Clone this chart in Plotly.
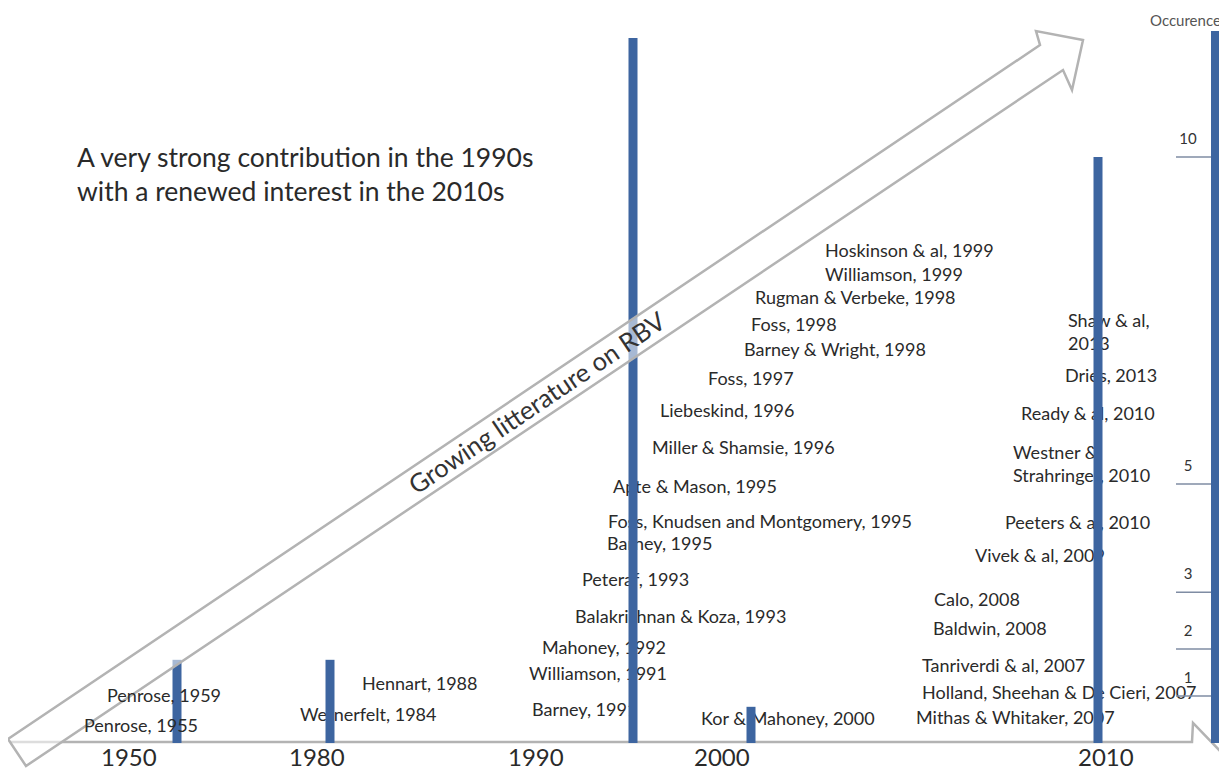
import plotly.graph_objects as go

# ---------------- data ----------------
decades = ["1950", "1980", "1990", "2000", "2010"]
occurrences = [1.77, 1.77, 15.0, 0.77, 12.47]
scale_bar_value = 15.15
scale_tick_values = [1.0, 2.0, 3.21, 5.51, 12.47]
scale_tick_text = ["1", "2", "3", "5", "10"]

refs_1950 = ["Penrose, 1959", "Penrose, 1955"]
refs_1980 = ["Hennart, 1988", "Wernerfelt, 1984"]
refs_1990 = ["Hoskinson & al, 1999", "Williamson, 1999", "Rugman & Verbeke, 1998",
             "Foss, 1998", "Barney & Wright, 1998", "Foss, 1997", "Liebeskind, 1996",
             "Miller & Shamsie, 1996", "Apte & Mason, 1995",
             "Foss, Knudsen and Montgomery, 1995", "Barney, 1995", "Peteraf, 1993",
             "Balakrishnan & Koza, 1993", "Mahoney, 1992", "Williamson, 1991",
             "Barney, 1991"]
refs_2000 = ["Kor & Mahoney, 2000"]
refs_2010 = ["Shaw & al,<br>2013", "Dries, 2013", "Ready & al, 2010",
             "Westner &<br>Strahringer, 2010", "Peeters & al, 2010", "Vivek & al, 2009",
             "Calo, 2008", "Baldwin, 2008", "Tanriverdi & al, 2007",
             "Holland, Sheehan & De Cieri, 2007", "Mithas & Whitaker, 2007"]

headline = "A very strong contribution in the 1990s<br>with a renewed interest in the 2010s"
arrow_text = "Growing litterature on RBV"
scale_title = "Occurences"

# ---------------- layout geometry (screen pixels) ----------------
OFF = 8                            # page body margin
W, H = 1227 - OFF, 778 - 2 * OFF   # figure size so the page never scrolls
BASE = 743.0                       # baseline pixel row (screen)
PX = 47.0                          # pixels per occurrence unit

bar_x = [177, 330, 633, 751, 1098]
scale_bar_x = 1215
decade_label_x = [129, 317, 536, 722, 1106]

pos_1950 = [(105, 695), (82, 725)]
pos_1980 = [(362, 685), (300, 716)]
pos_1990 = [(825, 252), (825, 276), (755, 299), (751, 326), (744, 351), (708, 380),
            (660, 412), (652, 449), (613, 488), (608, 523), (607, 545), (582, 581),
            (575, 618), (542, 649), (529, 675), (532, 711)]
pos_2000 = [(701, 720)]
pos_2010 = [(1068, 334), (1065, 377), (1021, 415), (1013, 466), (1005, 524),
            (975, 557), (934, 601), (933, 630), (922, 667), (922, 694), (916, 719)]


def vy(py):
    return (BASE - py) / PX


def pyp(py):
    return 1 - (py - OFF) / H


FONT = "Lato"
TXT = "#2a2a2a"
BLUE = "#3D65A0"
GRAY = "#b3b3b3"
LAB = 18

fig = go.Figure()

# label text (under the bars)
for refs, pos in [(refs_1980, pos_1980), (refs_1990, pos_1990),
                  (refs_2000, pos_2000), (refs_2010, pos_2010)]:
    fig.add_trace(go.Scatter(
        x=[p[0] for p in pos], y=[vy(p[1]) for p in pos], text=refs,
        mode="text", textposition="middle right",
        textfont=dict(family=FONT, size=LAB, color=TXT),
        hoverinfo="skip", showlegend=False))

# scale ticks
for v in scale_tick_values:
    fig.add_trace(go.Scatter(x=[1176, 1211], y=[v, v], mode="lines",
                             line=dict(color="#7f8ca3", width=1.5),
                             hoverinfo="skip", showlegend=False))
fig.add_trace(go.Scatter(
    x=[1188] * len(scale_tick_values), y=[v + 17 / PX for v in scale_tick_values],
    text=scale_tick_text, mode="text", textposition="middle center",
    textfont=dict(family=FONT, size=15, color="#333333"),
    hoverinfo="skip", showlegend=False))

# bars on an overlaid subplot so they sit above the text
fig.add_trace(go.Bar(x=bar_x, y=occurrences, width=9, marker_color=BLUE,
                     marker_line_width=0, xaxis="x2", yaxis="y2",
                     hoverinfo="skip", showlegend=False))
fig.add_trace(go.Bar(x=[scale_bar_x], y=[scale_bar_value], width=8, marker_color=BLUE,
                     marker_line_width=0, xaxis="x2", yaxis="y2",
                     hoverinfo="skip", showlegend=False))

yr = [vy(OFF + H), vy(OFF)]
xr = [OFF, OFF + W]
fig.update_layout(
    width=W, height=H, margin=dict(l=0, r=0, t=0, b=0),
    paper_bgcolor="white", plot_bgcolor="rgba(0,0,0,0)",
    xaxis=dict(range=xr, visible=False, fixedrange=True),
    yaxis=dict(range=yr, visible=False, fixedrange=True),
    xaxis2=dict(range=xr, visible=False, overlaying="x", fixedrange=True),
    yaxis2=dict(range=yr, visible=False, overlaying="y", fixedrange=True),
    barmode="overlay",
)

# horizontal timeline arrow (below bars)
hpath = (f"M 10,{pyp(742)} L 1192,{pyp(742)} L 1193,{pyp(723)} L 1250,{pyp(782)}")
fig.add_shape(type="path", path=hpath, xref="x", yref="paper", layer="below",
              line=dict(color=GRAY, width=2.5))

# big diagonal arrow with translucent white fill (above bars)
pts = [(8, 739), (1040, 45), (1036, 31), (1083, 40), (1072, 90), (1063, 70), (26, 766)]
dpath = "M " + " L ".join(f"{x},{pyp(y)}" for x, y in pts) + " Z"
fig.add_shape(type="path", path=dpath, xref="x", yref="paper", layer="above",
              fillcolor="rgba(255,255,255,0.55)", line=dict(color=GRAY, width=2.5))

ann = []
ann.append(dict(x=537, y=pyp(402), xref="x", yref="paper", text=arrow_text,
                textangle=-34, showarrow=False, xanchor="center", yanchor="middle",
                font=dict(family=FONT, size=25.5, color="#333333")))
ann.append(dict(x=75, y=pyp(174), xref="x", yref="paper", text=headline,
                xanchor="left", yanchor="middle", align="left", showarrow=False,
                font=dict(family=FONT, size=26.5, color=TXT)))
for lab, x in zip(decades, decade_label_x):
    ann.append(dict(x=x, y=pyp(756), xref="x", yref="paper", text=lab,
                    xanchor="center", yanchor="middle",
                    showarrow=False, font=dict(family=FONT, size=24, color=TXT)))
for lab, (x, y) in zip(refs_1950, pos_1950):
    ann.append(dict(x=x, y=pyp(y), xref="x", yref="paper", text=lab,
                    xanchor="left", yanchor="middle", showarrow=False,
                    font=dict(family=FONT, size=LAB, color=TXT)))
ann.append(dict(x=1148, y=pyp(20), xref="x", yref="paper", text=scale_title,
                xanchor="left", yanchor="middle", showarrow=False,
                font=dict(family=FONT, size=15, color="#555555")))
fig.update_layout(annotations=ann)

fig.write_html("out.html", config={"displayModeBar": False})
